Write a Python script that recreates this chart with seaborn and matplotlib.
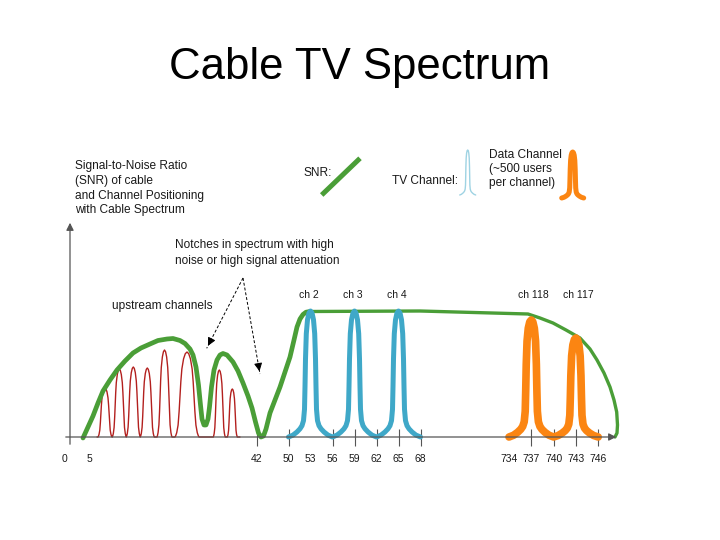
import numpy as np
import pandas as pd
import seaborn as sns
import matplotlib
matplotlib.use("Agg")
import matplotlib.pyplot as plt

# ---- data (schematic units: x = position along axis, y = level above baseline)
title = "Cable TV Spectrum"

snr_x = [83, 88, 93, 98, 103, 110, 117, 125, 133, 141, 150, 158, 167, 173, 180, 185, 190, 193,
         196, 198.5, 200.5, 202, 204, 206, 208, 209.5, 211.5, 214, 217, 220, 223, 227, 233, 238,
         243, 248, 252, 255.5, 258.5, 261, 263.5, 266, 270, 275, 280, 285, 290, 294, 297, 300,
         303, 306, 310,
         420, 528, 540, 553, 566, 580, 590, 597, 604, 610, 614, 616.7, 617.5, 617, 615]
snr_y = [-1, 10, 21, 34, 46, 57, 67, 76, 84, 89, 93, 96.5, 98, 98.5, 96.5, 93.5, 88, 82,
         70, 52, 32, 18, 12, 12, 18, 30, 50, 67, 77, 82, 83.5, 82, 75, 66,
         54, 41, 29, 15, 4, 0, 1, 8, 24, 37, 50, 65, 80, 97, 110, 118,
         122.5, 124.8, 125.5,
         126, 123, 119, 114, 107, 99, 88, 77, 64, 50, 37, 25, 12, 4, 0]
snr_split = 52  # the line is drawn thinner from ch 2 onwards

up_centers = [105, 119.3, 133.3, 147.3, 164.5, 187, 219.3, 232.3]
up_heights = [49, 68, 70, 69, 87, 85, 67, 48]
up_halfw = [7, 7, 7, 7, 7.5, 12, 6, 5]

tv_centers = [310.5, 354.5, 398.5]
tv_heights = [126, 126, 126]
tv_labels = ["ch 2", "ch 3", "ch 4"]

data_centers = [531.3, 575.9]
data_heights = [117, 99]
data_labels = ["ch 118", "ch 117"]

# channel shape (right half), for a half width of 22
chan_dx = [0, 1.5, 3, 4.2, 5.0, 5.5, 6.0, 7.0, 8.5, 10.5, 13.5, 17.5, 22]
chan_fy = [1, .985, .93, .82, .62, .40, .22, .13, .09, .065, .04, .015, 0]
# upstream carrier shape (right half), for a half width of 7
up_dx = [0, 1, 2, 3, 3.6, 4.1, 4.6, 5.2, 6, 6.6, 7]
up_fy = [1, .98, .92, .8, .65, .48, .3, .14, .05, .015, 0]

freq_labels = ["0", "5", "42", "50", "53", "56", "59", "62", "65", "68",
               "734", "737", "740", "743", "746"]
freq_pos = [65, 89, 257, 288.5, 310.5, 332.5, 354.5, 376.5, 398.5, 420.5,
            509, 531.3, 553.6, 575.9, 598.2]
tick_labels = ["42", "50", "56", "59", "62", "65", "68", "737", "740", "743", "746"]

BASE = 437  # baseline, pixels from top


def peaks(centers, heights, halfw, dx, fy, ref_w, level=0.0):
    dx = np.asarray(dx) / ref_w
    fy = np.asarray(fy)
    xs, ys = [], []
    for c, h, w in zip(centers, heights, halfw):
        xs += list(c - w * dx[::-1]) + list(c + w * dx[1:])
        ys += list(level + h * fy[::-1]) + list(level + h * fy[1:])
    return pd.DataFrame({"x": xs, "y": ys})


def ptxt(x, y, s, **kw):
    kw.setdefault("va", "center")
    kw.setdefault("color", "#1a1a1a")
    fig.text(x / 720, 1 - y / 540, s, **kw)


def curve(df, color, lw):
    sns.lineplot(data=df, x="x", y="y", sort=False, estimator=None, color=color, lw=lw,
                 solid_joinstyle="round", solid_capstyle="round", ax=ax)


sns.set_style("white")
plt.rcParams["font.family"] = ["Liberation Sans", "DejaVu Sans"]

fig = plt.figure(figsize=(7.2, 5.4), dpi=100)
ax = fig.add_axes([0, 0, 1, 1])
ax.set_xlim(0, 720)
ax.set_ylim(BASE - 540, BASE)
ax.axis("off")

green = "#4a9e37"
blue = "#3fa8c8"
orange = "#fb8512"
red = "#b3201e"

# axes
ax.annotate("", xy=(619, 0), xytext=(63, 0),
            arrowprops=dict(arrowstyle="-|>", color="#555555", lw=0.9, mutation_scale=11))
ax.annotate("", xy=(70, BASE - 220), xytext=(70, -10),
            arrowprops=dict(arrowstyle="-|>", color="#555555", lw=0.9, mutation_scale=11))
tick_x = [p for l, p in zip(freq_labels, freq_pos) if l in tick_labels]
ax.vlines(tick_x, -9, 8, color="#555555", lw=0.8)
for l, p in zip(freq_labels, freq_pos):
    ptxt(p, 459, l, ha="center", fontsize=7.5)

# upstream carriers
up = peaks(up_centers, up_heights, up_halfw, up_dx, up_fy, 7)
up = pd.concat([pd.DataFrame({"x": [97], "y": [0]}), up,
                pd.DataFrame({"x": [240], "y": [0]})], ignore_index=True)
curve(up, red, 1.0)

# SNR curve
snr = pd.DataFrame({"x": snr_x, "y": snr_y})
curve(snr.iloc[:snr_split + 1], green, 3.4)
curve(snr.iloc[snr_split:], green, 2.4)

# TV channels
tv = peaks(tv_centers, tv_heights, [22] * 3, chan_dx, chan_fy, 22)
curve(tv, blue, 3.6)
for c, l in zip(tv_centers, tv_labels):
    ptxt(c - 2, 295, l, ha="center", fontsize=7.5)

# data channels
dc = peaks(data_centers, data_heights, [22.3] * 2, chan_dx, chan_fy, 22)
curve(dc, orange, 5.5)
for c, l in zip(data_centers, data_labels):
    ptxt(c + 2, 295, l, ha="center", fontsize=7.5)

# legend glyphs
ax.plot([321.7, 360], [BASE - 195, BASE - 158.3], color=green, lw=3.6, solid_capstyle="butt")
leg_tv = peaks([467.7], [45], [8], chan_dx, chan_fy, 22, level=BASE - 195)
curve(leg_tv, "#9fd3e3", 1.0)
leg_dc = peaks([572.7], [46], [11], chan_dx, chan_fy, 22, level=BASE - 198)
curve(leg_dc, orange, 3.6)

# notch arrows
for tip in [(206.7, 348.3), (260, 374)]:
    sx, sy = 243, 278
    tx, ty = tip
    ax.plot([sx, tx], [BASE - sy, BASE - ty], color="black", lw=0.7, ls=(0, (3, 2)))
    ax.annotate("", xy=(tx, BASE - ty), xytext=(tx + (sx - tx) * 0.12, BASE - ty + (ty - sy) * 0.12),
                arrowprops=dict(arrowstyle="-|>", color="black", lw=0.7, mutation_scale=12))

# text
ptxt(360, 68, title, ha="center", fontsize=31.5, color="black")
fs = 8.6
for i, s in enumerate(["Signal-to-Noise Ratio", "(SNR) of cable",
                       "and Channel Positioning", "with Cable Spectrum"]):
    ptxt(75, 166.5 + 14.5 * i, s, fontsize=fs)
ptxt(303, 173, "SNR:", fontsize=fs)
ptxt(392, 181, "TV Channel:", fontsize=fs)
for i, s in enumerate(["Data Channel", "(~500 users", "per channel)"]):
    ptxt(489, 155 + 14 * i, s, fontsize=fs)
ptxt(175, 245, "Notches in spectrum with high", fontsize=fs)
ptxt(175, 261, "noise or high signal attenuation", fontsize=fs)
ptxt(112.5, 306, "upstream channels", fontsize=fs)

fig.savefig("out.png", dpi=100, facecolor="white")
